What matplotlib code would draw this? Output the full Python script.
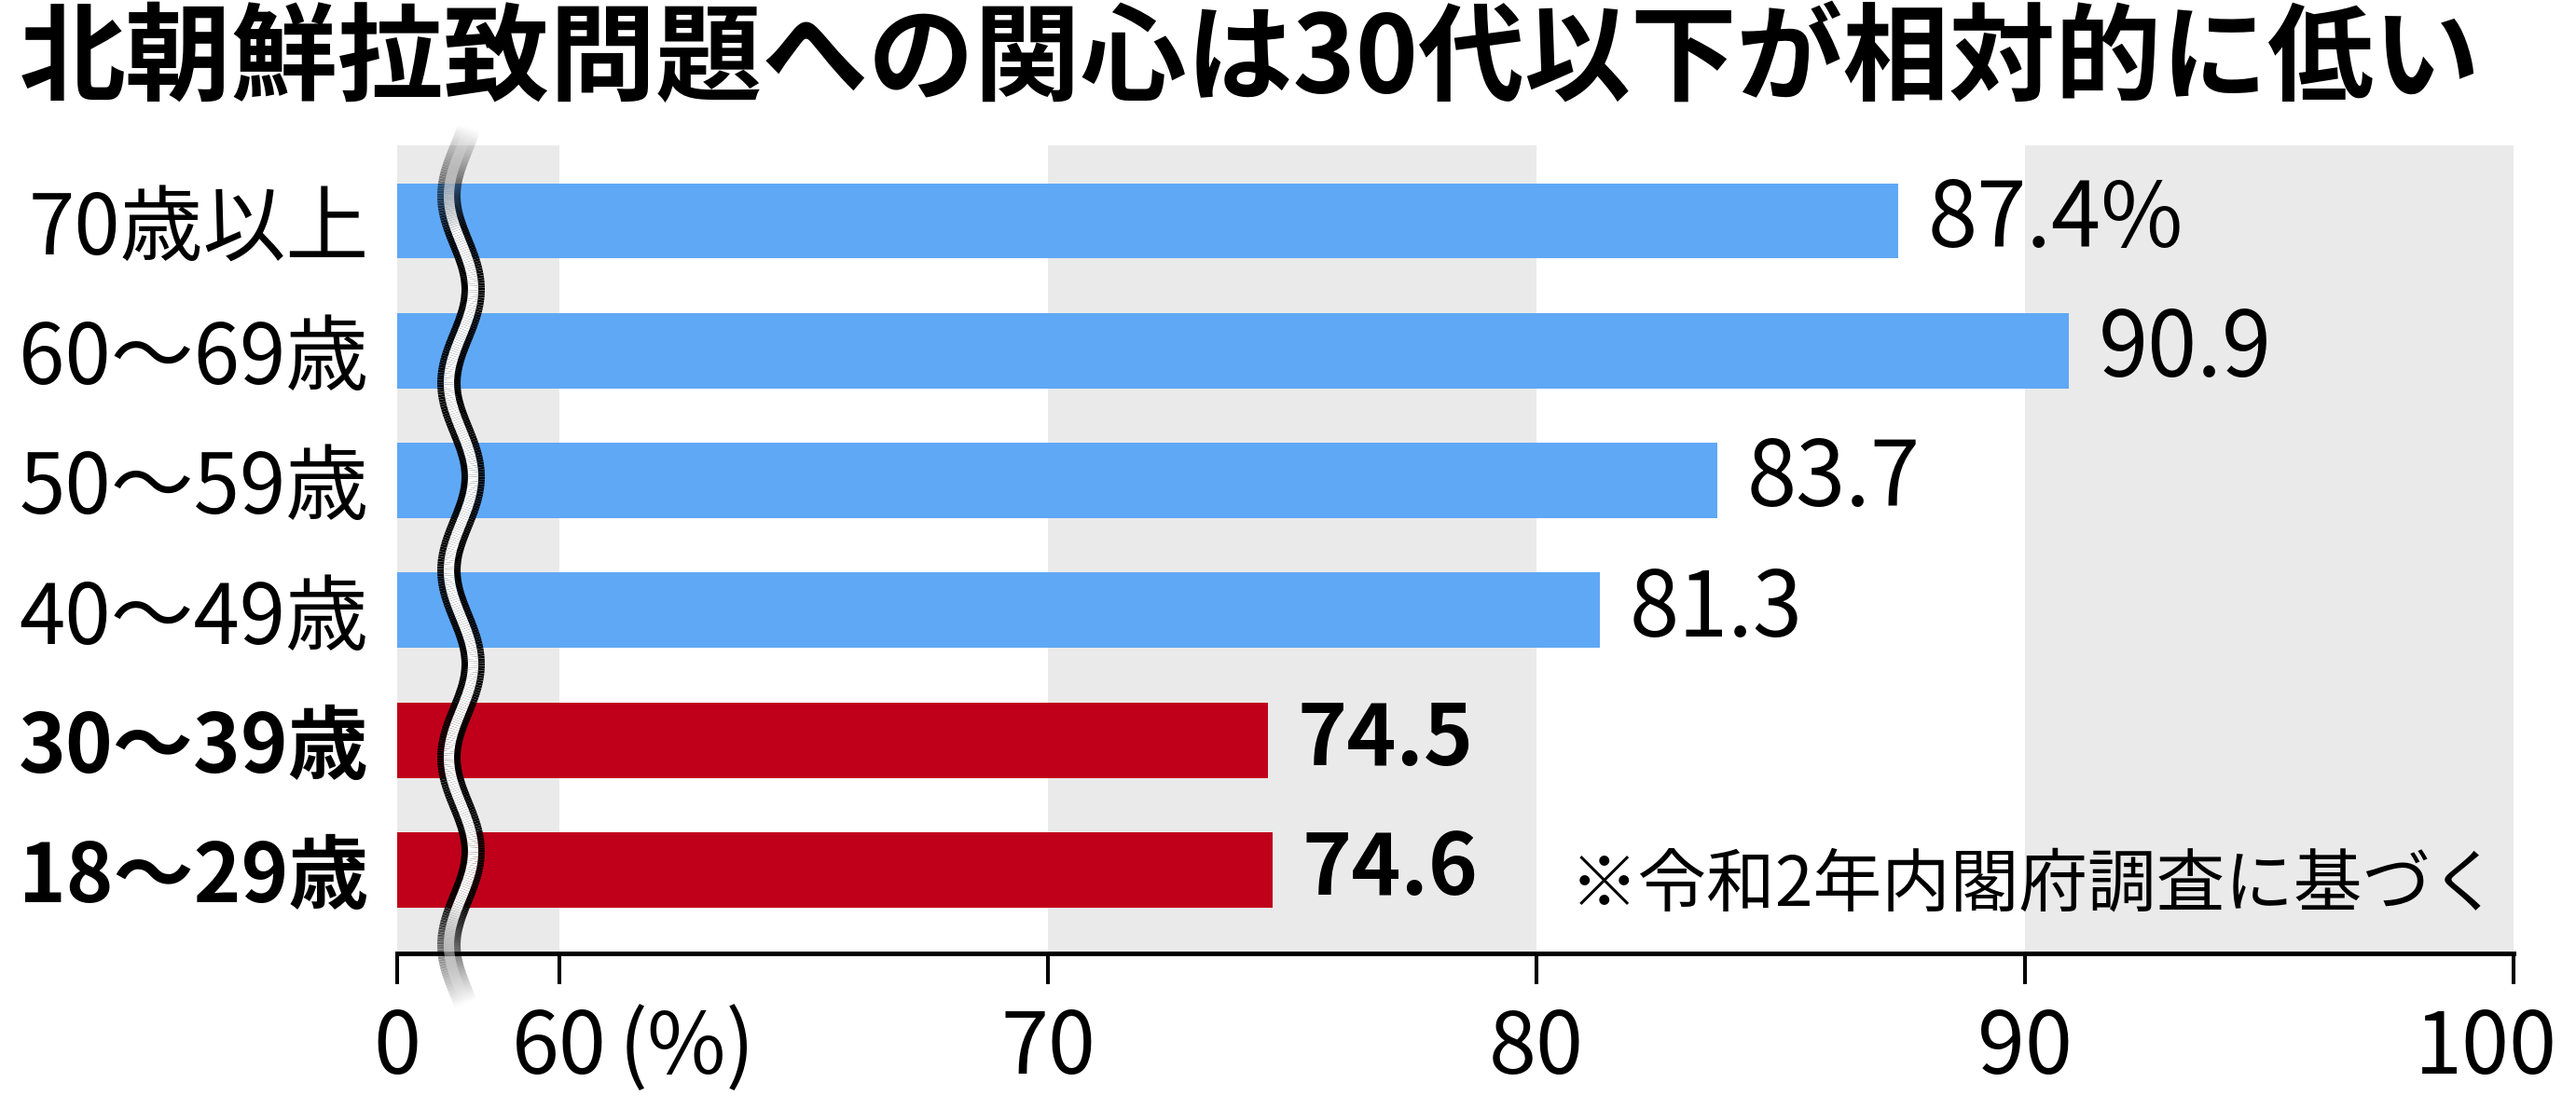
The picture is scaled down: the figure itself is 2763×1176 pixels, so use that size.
import numpy as np
import matplotlib
matplotlib.use('Agg')
import matplotlib.pyplot as plt
from matplotlib.collections import LineCollection
from matplotlib.transforms import ScaledTranslation

plt.rcParams['font.family'] = ['Noto Sans CJK JP', 'DejaVu Sans']

# data
categories = ['70歳以上', '60〜69歳', '50〜59歳', '40〜49歳', '30〜39歳', '18〜29歳']
values = [87.4, 90.9, 83.7, 81.3, 74.5, 74.6]
highlight = [False, False, False, False, True, True]
value_labels = ['87.4%', '90.9', '83.7', '81.3', '74.5', '74.6']
tick_values = [60, 70, 80, 90, 100]
tick_labels = ['0', '60', '70', '80', '90', '100']

BLUE = '#5fa8f5'
RED = '#c0001a'
GRAY = '#eaeaea'

W, H = 2763, 1176
fig = plt.figure(figsize=(W / 100, H / 100), dpi=100)

# the axis is broken between 0 and 60: 0 sits a short way left of 60
x0 = 60 - 174 / 52.4
ax = fig.add_axes([426 / W, 1 - 1023 / H, (2696 - 426) / W, (1023 - 156) / H])
ax.set_xlim(x0, 100)
ax.set_ylim(5.6425, -0.581)

# alternating background bands
ax.axvspan(x0, 60, color=GRAY, lw=0, zorder=0)
ax.axvspan(70, 80, color=GRAY, lw=0, zorder=0)
ax.axvspan(90, 100, color=GRAY, lw=0, zorder=0)

y = np.arange(len(categories))
colors = [RED if h else BLUE for h in highlight]
ax.barh(y, [v - x0 for v in values], left=x0, height=0.58, color=colors, zorder=2)

for yi, v, lab, h in zip(y, values, value_labels, highlight):
    ax.annotate(lab, xy=(v, yi), xytext=(23, 0), textcoords='offset points',
                ha='left', va='center', fontsize=65 if h else 69,
                fontweight='bold' if h else 'normal', zorder=3)

for s in ['top', 'right', 'left']:
    ax.spines[s].set_visible(False)
ax.spines['bottom'].set_linewidth(3.6)
ax.spines['bottom'].set_zorder(4)

ax.set_xticks([x0] + tick_values)
ax.set_xticklabels(tick_labels, fontsize=66)
ax.tick_params(axis='x', length=24, width=2.9, pad=16)
last = ax.get_xticklabels()[-1]
last.set_transform(last.get_transform() + ScaledTranslation(-0.3, 0, fig.dpi_scale_trans))

ax.set_yticks(y)
ax.set_yticklabels(categories, fontsize=64)
ax.tick_params(axis='y', length=0, pad=22)
for lab, h in zip(ax.get_yticklabels(), highlight):
    if h:
        lab.set_fontweight('bold')
        lab.set_fontsize(62)

ax.annotate('(%)', xy=(60, 0), xycoords=('data', 'axes fraction'),
            xytext=(46, -40), textcoords='offset points',
            ha='left', va='top', fontsize=66)

fig.text(21 / W, 1 - 66 / H, '北朝鮮拉致問題への関心は30代以下が相対的に低い',
         fontsize=82, fontweight='bold', ha='left', va='center')
fig.text(2682 / W, 1 - 951 / H, '※令和2年内閣府調査に基づく',
         fontsize=53, ha='right', va='center')

# wavy break mark, fading at both ends
yy = np.linspace(137, 1077, 400)
xx = 494.5 - 13 * np.cos(2 * np.pi * (yy - 210) / 201)
pts = np.column_stack([xx / W, 1 - yy / H])
segs = np.stack([pts[:-1], pts[1:]], axis=1)
ym = (yy[:-1] + yy[1:]) / 2
alpha = np.clip(np.minimum((ym - 137) / 113, (1077 - ym) / 110), 0, 1)
black = np.zeros((len(ym), 4))
black[:, 3] = alpha
white = np.ones((len(ym), 4))
white[:, 3] = alpha
fig.add_artist(LineCollection(segs, colors=black, linewidths=18,
                              capstyle='butt', transform=fig.transFigure, zorder=10))
fig.add_artist(LineCollection(segs, colors=white, linewidths=8,
                              capstyle='butt', transform=fig.transFigure, zorder=11))

fig.savefig('out.png', dpi=100)
